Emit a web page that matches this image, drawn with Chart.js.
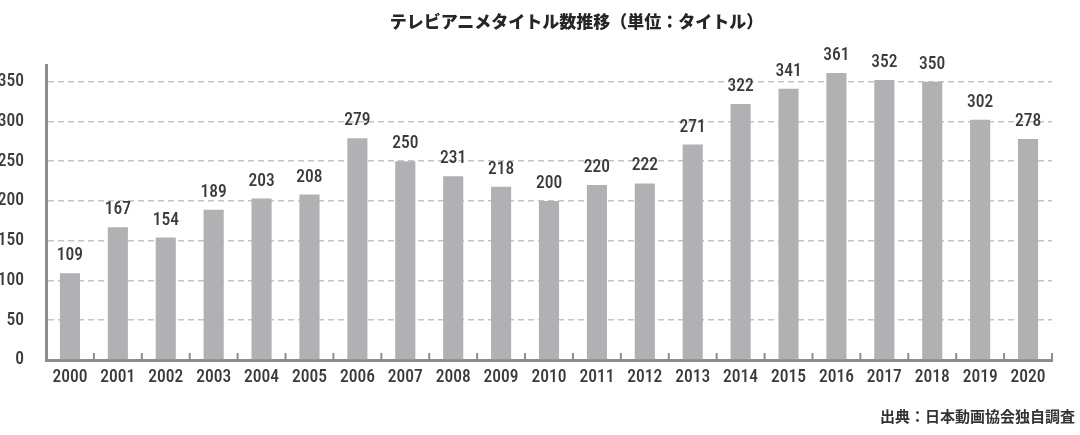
<!DOCTYPE html>
<html lang="ja">
<head>
<meta charset="utf-8">
<script src="https://cdn.jsdelivr.net/npm/chart.js@4"></script>
<style>
  html, body { margin: 0; padding: 0; background: #fff; }
  #wrap { position: relative; width: 1080px; height: 435px; overflow: hidden; }
  #title {
    position: absolute; left: 0; top: 9px; width: 1153px; text-align: center;
    font-family: "Noto Sans CJK JP", sans-serif; font-weight: 900; font-size: 17px;
    color: #262626; line-height: 24px;
  }
  #source {
    position: absolute; right: 5px; top: 405px;
    font-family: "Noto Sans CJK JP", sans-serif; font-weight: 700; font-size: 15px;
    color: #333; line-height: 22px;
  }
  canvas { position: absolute; left: 0; top: 0; }
</style>
</head>
<body>
<div id="wrap">
  <canvas id="myChart" width="1080" height="435"></canvas>
  <div id="title">テレビアニメタイトル数推移（単位：タイトル）</div>
  <div id="source">出典：日本動画協会独自調査</div>
</div>
<script>
const years = ["2000", "2001", "2002", "2003", "2004", "2005", "2006", "2007", "2008", "2009", "2010",
  "2011", "2012", "2013", "2014", "2015", "2016", "2017", "2018", "2019", "2020"];
const titles = [109, 167, 154, 189, 203, 208, 279, 250, 231, 218, 200,
  220, 222, 271, 322, 341, 361, 352, 350, 302, 278];
const yTicks = [0, 50, 100, 150, 200, 250, 300, 350];

// Roboto の condensed 版を使う
const numFont = { family: "Roboto", size: 17.5, weight: "condensed 500" };
const axisColor = "#8c8c8c";
const textColor = "#3a3a3a";

// 棒の上の数値
const valueLabels = {
  id: "valueLabels",
  afterDatasetsDraw(chart) {
    const ctx = chart.ctx;
    const meta = chart.getDatasetMeta(0);
    ctx.save();
    ctx.font = "condensed 500 17.5px Roboto";
    ctx.fillStyle = textColor;
    ctx.textAlign = "center";
    ctx.textBaseline = "alphabetic";
    meta.data.forEach((bar, i) => {
      ctx.fillText(titles[i], bar.x, bar.y - 13);
    });
    ctx.restore();
  },
};

// x軸の内向きの小さい目盛り
const innerTicks = {
  id: "innerTicks",
  afterDraw(chart) {
    const ctx = chart.ctx;
    const x = chart.scales.x;
    const bottom = chart.chartArea.bottom;
    ctx.save();
    ctx.strokeStyle = axisColor;
    ctx.lineWidth = 2;
    ctx.beginPath();
    for (let i = 0; i < years.length; i++) {
      const px = i < years.length - 1
        ? (x.getPixelForValue(i) + x.getPixelForValue(i + 1)) / 2
        : chart.chartArea.right;
      ctx.moveTo(px, bottom);
      ctx.lineTo(px, bottom - 7);
    }
    ctx.stroke();
    ctx.restore();
  },
};

new Chart(document.getElementById("myChart"), {
  type: "bar",
  data: {
    labels: years,
    datasets: [
      {
        data: titles,
        backgroundColor: "#b1b1b4",
        borderWidth: 0,
        barPercentage: 0.42,
        categoryPercentage: 1,
      },
    ],
  },
  options: {
    responsive: false,
    animation: false,
    layout: { padding: { top: 65, right: 28, bottom: 0, left: 0 } },
    plugins: {
      legend: { display: false },
      tooltip: { enabled: false },
    },
    scales: {
      x: {
        afterFit(scale) { scale.height = 75; },
        grid: { display: false, drawTicks: false },
        border: { display: true, color: axisColor, width: 3 },
        ticks: {
          padding: 7,
          color: textColor,
          font: numFont,
          maxRotation: 0,
        },
      },
      y: {
        min: 0,
        max: 371,
        afterFit(scale) { scale.width = 46; },
        afterBuildTicks(scale) {
          scale.ticks = yTicks.map((v) => ({ value: v }));
        },
        grid: {
          drawTicks: false,
          color: (c) => (c.tick && c.tick.value > 0 ? "#c4c4c4" : "rgba(0,0,0,0)"),
          lineWidth: 1.5,
        },
        border: { display: true, color: axisColor, width: 3, dash: [6, 4] },
        ticks: {
          padding: 22,
          color: textColor,
          font: numFont,
        },
      },
    },
  },
  plugins: [valueLabels, innerTicks],
});
</script>
</body>
</html>
